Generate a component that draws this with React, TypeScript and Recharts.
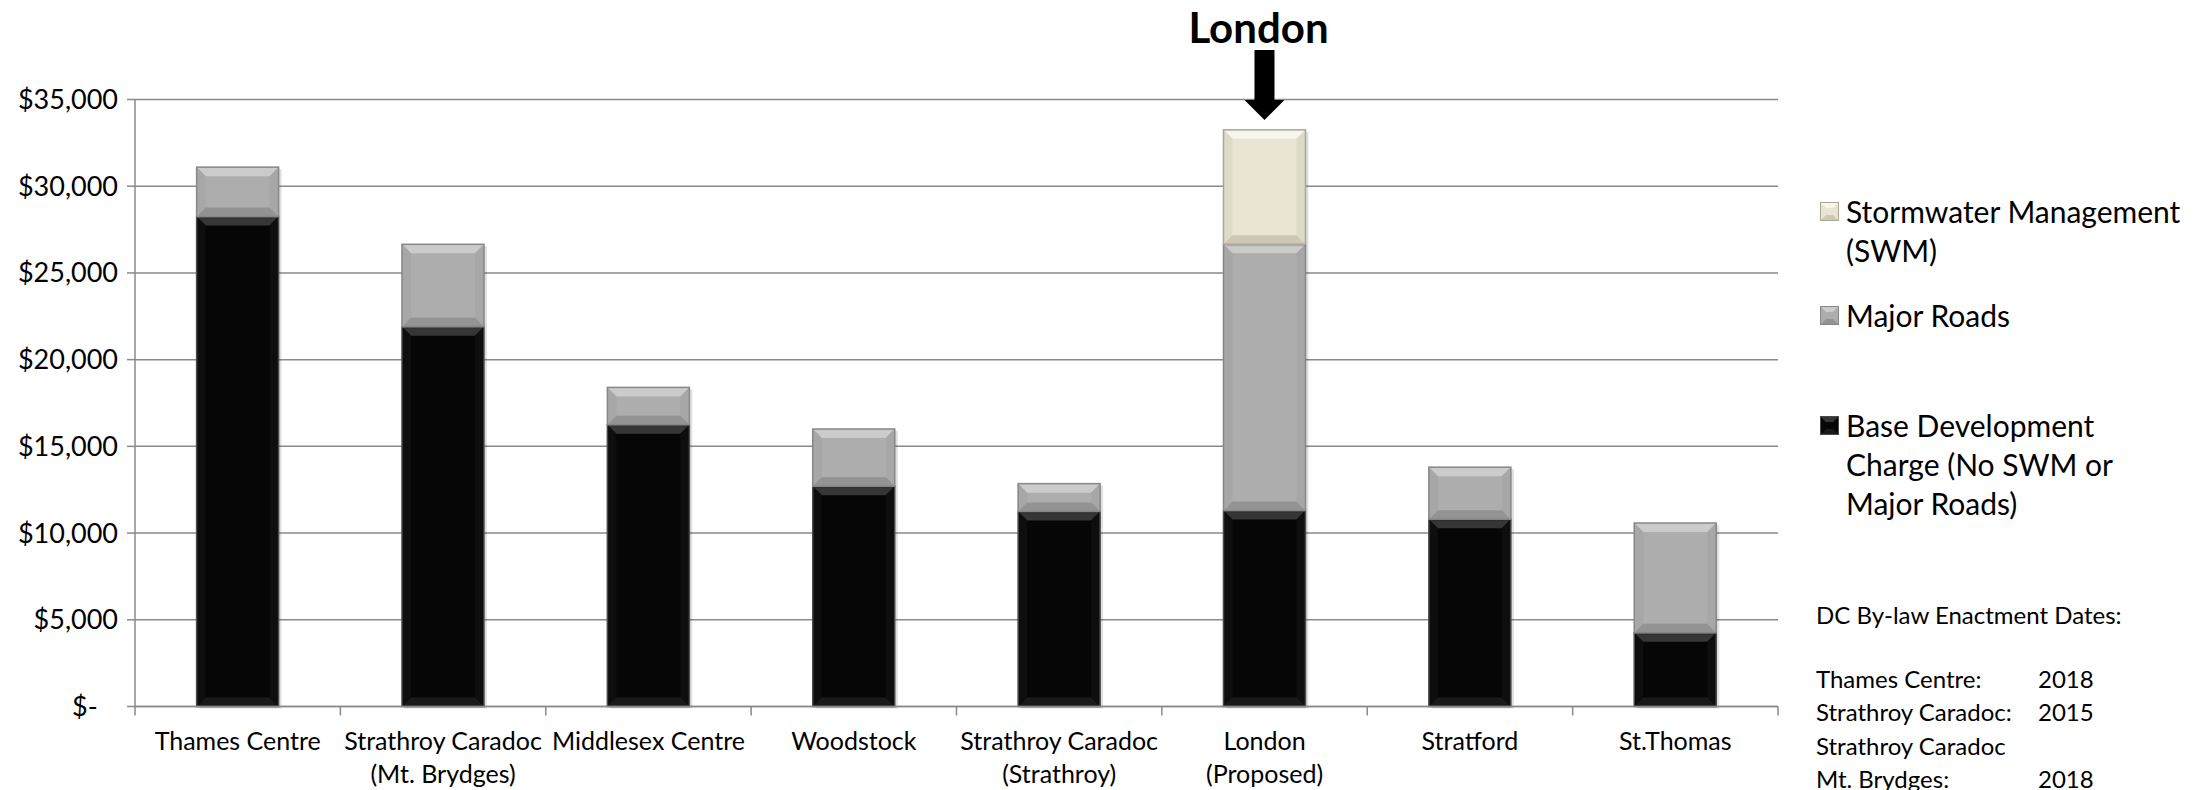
import React from 'react';
import { BarChart, Bar, XAxis, YAxis, CartesianGrid, Legend, LabelList } from 'recharts';

// DC per single detached unit, by municipality
const categories = [
  'Thames Centre',
  'Strathroy Caradoc\n(Mt. Brydges)',
  'Middlesex Centre',
  'Woodstock',
  'Strathroy Caradoc\n(Strathroy)',
  'London\n(Proposed)',
  'Stratford',
  'St.Thomas',
];
const baseCharge = [28250, 21900, 16250, 12700, 11250, 11300, 10800, 4250];
const majorRoads = [2850, 4750, 2150, 3300, 1600, 15350, 3000, 6330];
const stormwater = [0, 0, 0, 0, 0, 6600, 0, 0];

const yTicks = [0, 5000, 10000, 15000, 20000, 25000, 30000, 35000];

const seriesNames = {
  base: 'Base Development\nCharge (No SWM or\nMajor Roads)',
  roads: 'Major Roads',
  swm: 'Stormwater Management\n(SWM)',
};

const highlightTitle = 'London';

const enactmentTitle = 'DC By-law Enactment Dates:';
const enactmentRows = [
  ['Thames Centre:', '2018'],
  ['Strathroy Caradoc:', '2015'],
  ['Strathroy Caradoc', ''],
  ['Mt. Brydges:', '2018'],
];

const data = categories.map((name, i) => ({
  name,
  base: baseCharge[i],
  roads: majorRoads[i],
  swm: stormwater[i],
}));

const FONT = 'Lato, "Open Sans", sans-serif';
const AXIS = '#8a8a8a';

const TONES: any = {
  base: { main: '#060606', top: '#363636', bottom: '#1a1a1a', side: '#0e0e0e', stroke: '#4a4a4a' },
  roads: { main: '#adadad', top: '#cbcbcb', bottom: '#939393', side: '#a7a7a7', stroke: '#878787' },
  swm: { main: '#e9e5d2', top: '#f7f5ec', bottom: '#ccc8b5', side: '#dedac8', stroke: '#a8a694' },
};

const BevelBar = (props: any) => {
  const { x, y, width: w, height: h, tone } = props;
  if (!h || h <= 0) return null;
  const t = TONES[tone];
  const b = Math.min(9, h / 3);
  return (
    <g>
      <rect x={x + 3} y={y + 2} width={w} height={h} fill="#000" opacity={0.12} />
      <rect x={x} y={y} width={w} height={h} fill={t.main} />
      <polygon points={`${x},${y} ${x + w},${y} ${x + w - b},${y + b} ${x + b},${y + b}`} fill={t.top} />
      <polygon points={`${x},${y} ${x + b},${y + b} ${x + b},${y + h - b} ${x},${y + h}`} fill={t.side} />
      <polygon points={`${x + w},${y} ${x + w - b},${y + b} ${x + w - b},${y + h - b} ${x + w},${y + h}`} fill={t.side} />
      <polygon points={`${x},${y + h} ${x + b},${y + h - b} ${x + w - b},${y + h - b} ${x + w},${y + h}`} fill={t.bottom} />
      <rect x={x} y={y} width={w} height={h} fill="none" stroke={t.stroke} strokeWidth={1.5} />
    </g>
  );
};

const YTick = (props: any) => {
  const { x, y, payload } = props;
  const v = Number(payload.value);
  if (v === 0) {
    // accounting-style zero sits further in
    return (
      <text x={Number(x) - 46} y={y} dy="0.35em" textAnchor="start" fontFamily={FONT} fontSize={27} fill="#000">
        $-
      </text>
    );
  }
  return (
    <text x={x} y={y} dy="0.35em" textAnchor="end" fontFamily={FONT} fontSize={27} fill="#000">
      {'$' + v.toLocaleString('en-US')}
    </text>
  );
};

const XTick = (props: any) => {
  const { x, y, payload, index, visibleTicksCount } = props;
  const half = payload.offset || 0;
  const axisY = y - 14;
  const lines = String(payload.value).split('\n');
  return (
    <g>
      <line x1={x - half} x2={x - half} y1={axisY} y2={axisY + 9} stroke={AXIS} strokeWidth={1.5} />
      {index === visibleTicksCount - 1 && (
        <line x1={x + half} x2={x + half} y1={axisY} y2={axisY + 9} stroke={AXIS} strokeWidth={1.5} />
      )}
      <text x={x} y={y} textAnchor="middle" fontFamily={FONT} fontSize={25} fill="#000">
        {lines.map((l, i) => (
          <tspan key={i} x={x} dy={i === 0 ? 29 : 33}>
            {l}
          </tspan>
        ))}
      </text>
    </g>
  );
};

// title + arrow over the highlighted column
const ArrowLabel = (props: any) => {
  const { x, width, value } = props;
  if (!value) return null;
  const cx = x + width / 2;
  return (
    <g>
      <text x={cx - 6} y={43} textAnchor="middle" fontFamily={FONT} fontWeight={700} fontSize={42} fill="#000">
        {highlightTitle}
      </text>
      <polygon
        points={`${cx - 10},50 ${cx + 10},50 ${cx + 10},100 ${cx + 20},100 ${cx},120 ${cx - 20},100 ${cx - 10},100`}
        fill="#000"
      />
    </g>
  );
};

const Swatch = ({ tone }: any) => {
  const t = TONES[tone];
  return (
    <svg width={19} height={19} style={{ flex: 'none', marginTop: 10, marginRight: 7 }}>
      <rect x={0.5} y={0.5} width={18} height={18} fill={t.main} stroke={t.stroke} />
      <polygon points="1,1 18,1 13,6 6,6" fill={t.top} />
      <polygon points="1,18 18,18 13,13 6,13" fill={t.bottom} />
    </svg>
  );
};

const legendGaps = [0, 26, 71];

const renderLegend = (props: any) => {
  const items = [...(props.payload || [])].reverse();
  return (
    <div style={{ fontFamily: FONT, fontSize: 30, lineHeight: '39px', color: '#000' }}>
      {items.map((it: any, i: number) => (
        <div key={it.dataKey} style={{ display: 'flex', marginTop: legendGaps[i] }}>
          <Swatch tone={it.dataKey} />
          <div style={{ whiteSpace: 'pre-line' }}>{it.value}</div>
        </div>
      ))}
    </div>
  );
};

export default function App() {
  return (
    <div style={{ position: 'absolute', left: 0, top: 0, width: 2205, height: 790, background: '#fff' }}>
      <BarChart
        width={2205}
        height={790}
        data={data}
        margin={{ top: 99.5, right: 427, bottom: 0, left: 0 }}
        barCategoryGap="30%"
      >
        <CartesianGrid vertical={false} stroke={AXIS} strokeWidth={1.5} />
        <XAxis
          dataKey="name"
          height={83.5}
          stroke={AXIS}
          strokeWidth={1.5}
          tickLine={false}
          tickSize={8}
          tickMargin={6}
          interval={0}
          tick={<XTick />}
        />
        <YAxis
          width={135}
          domain={[0, 35000]}
          ticks={yTicks}
          interval={0}
          stroke={AXIS}
          strokeWidth={1.5}
          tickSize={8}
          tickMargin={9}
          tick={<YTick />}
        />
        <Legend
          layout="vertical"
          align="center"
          verticalAlign="middle"
          content={renderLegend}
          wrapperStyle={{ left: 1820, top: 192, width: 385 }}
        />
        <Bar dataKey="base" name={seriesNames.base} stackId="dc" fill={TONES.base.main} isAnimationActive={false}
          shape={(p: any) => <BevelBar {...p} tone="base" />} />
        <Bar dataKey="roads" name={seriesNames.roads} stackId="dc" fill={TONES.roads.main} isAnimationActive={false}
          shape={(p: any) => <BevelBar {...p} tone="roads" />} />
        <Bar dataKey="swm" name={seriesNames.swm} stackId="dc" fill={TONES.swm.main} isAnimationActive={false}
          shape={(p: any) => <BevelBar {...p} tone="swm" />}>
          <LabelList dataKey="swm" content={<ArrowLabel />} />
        </Bar>
      </BarChart>
      <div
        style={{
          position: 'absolute',
          left: 1816,
          top: 598,
          fontFamily: FONT,
          fontSize: 24,
          lineHeight: '33.5px',
          color: '#000',
        }}
      >
        <div style={{ marginBottom: 30 }}>{enactmentTitle}</div>
        {enactmentRows.map(([n, yr], i) => (
          <div key={i} style={{ display: 'flex' }}>
            <div style={{ width: 222 }}>{n}</div>
            <div>{yr}</div>
          </div>
        ))}
      </div>
    </div>
  );
}
